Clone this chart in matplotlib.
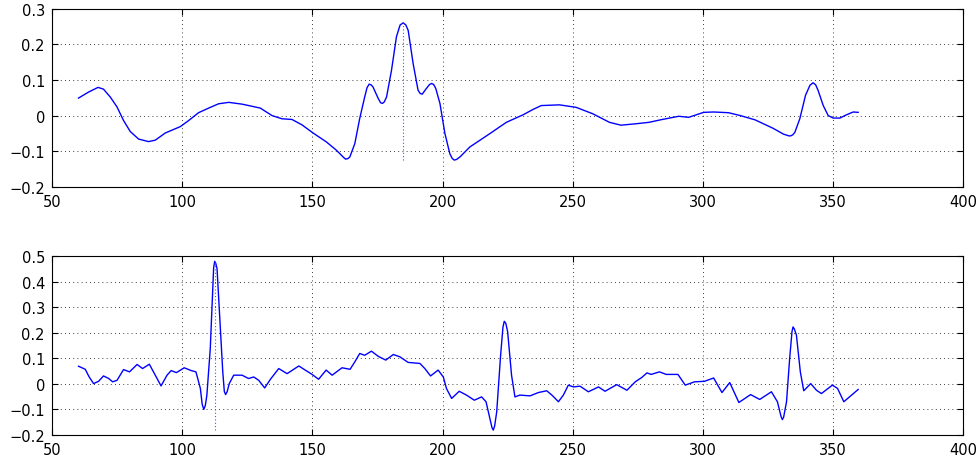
import numpy as np
import matplotlib
matplotlib.use("Agg")
from matplotlib import pyplot as plt

#------DATA-----
# upper trace (sample index, amplitude)
x_top = [60.2, 64.1, 67.7, 69.8, 72.4, 75.0, 77.5, 80.1, 83.3, 87.1, 89.7, 93.5,
         99.3, 102.5, 106.3, 110.2, 114.0, 117.9, 123.0, 130.0, 134.5, 138.3,
         142.2, 146.0, 150.3, 155.4, 159.2, 161.8, 162.7, 163.6, 164.4, 166.3, 168.2, 170.1,
         171.0, 171.8, 172.6, 173.3, 175.3, 176.2, 176.9, 177.6, 178.5, 180.4, 182.3, 183.7, 184.9,
         185.9, 186.8, 188.7, 190.6, 191.4, 192.2, 193.8, 195.0, 195.8, 196.6, 197.4, 199.0,
         200.9, 202.8, 203.7, 204.5, 205.4, 206.7,
         210.5, 214.4, 218.1, 224.5, 230.9, 234.7, 237.9, 244.9, 251.3, 257.7,
         264.1, 268.5, 274.3, 279.3, 283.7, 290.7, 294.5, 300.3, 304.1, 309.8,
         314.3, 320.0, 327.0, 330.9, 333.0, 333.7, 334.5, 335.3, 337.2, 339.4, 341.1, 342.3,
         343.3, 344.2, 346.2, 348.1, 350.0, 352.6, 355.1, 357.7, 359.6]
y_top = [0.049, 0.066, 0.079, 0.074, 0.052, 0.024, -0.014, -0.045, -0.066, -0.073, -0.069, -0.049,
         -0.031, -0.014, 0.008, 0.021, 0.033, 0.037, 0.032, 0.021, 0.000, -0.009,
         -0.011, -0.026, -0.049, -0.074, -0.097, -0.116, -0.122, -0.121, -0.116, -0.079, -0.008, 0.052,
         0.078, 0.088, 0.086, 0.080, 0.048, 0.036, 0.034, 0.038, 0.052, 0.127, 0.221, 0.254, 0.260,
         0.254, 0.239, 0.146, 0.071, 0.062, 0.060, 0.076, 0.087, 0.090, 0.087, 0.076, 0.034,
         -0.050, -0.107, -0.120, -0.125, -0.123, -0.116,
         -0.088, -0.069, -0.051, -0.019, 0.002, 0.017, 0.028, 0.030, 0.023, 0.005,
         -0.019, -0.027, -0.023, -0.019, -0.012, -0.002, -0.005, 0.009, 0.010, 0.008,
         0.000, -0.012, -0.036, -0.052, -0.057, -0.057, -0.054, -0.047, -0.009, 0.057, 0.085, 0.092,
         0.086, 0.071, 0.028, 0.000, -0.007, -0.007, 0.002, 0.010, 0.009]

# lower trace
x_bot = [60.2, 62.8, 64.3, 66.0, 67.9, 69.8, 71.8, 73.3, 75.0, 77.5, 79.8, 82.7,
         84.8, 87.4, 89.7, 91.9, 94.2, 95.8, 97.8, 100.8, 103.5, 105.3, 107.0,
         107.7, 108.3, 108.9, 109.5, 110.8, 111.7, 112.1, 112.5, 112.9, 113.4, 114.4, 115.6,
         116.2, 116.7, 117.3, 118.1,
         119.8, 123.0, 125.5, 127.5, 129.4, 131.7, 133.9, 137.1, 140.3, 144.8,
         147.3, 149.9, 152.4, 155.3, 157.6, 161.4, 164.5, 166.3, 168.2, 170.1,
         172.7, 175.3, 178.2, 181.1, 183.6, 186.8, 191.3, 193.2, 195.4, 198.3,
         200.3, 201.5, 203.5, 206.4, 209.2, 212.2, 215.0, 216.7, 218.2, 219.0, 219.5,
         220.0, 220.8, 222.3, 223.2, 223.7, 224.3, 225.0, 226.5, 227.8, 229.7, 233.6, 236.8, 240.0,
         242.0, 244.5, 246.4, 248.3, 250.3, 252.8, 256.0, 259.9, 262.4, 266.9,
         270.8, 274.0, 276.5, 278.5, 280.1, 283.3, 285.9, 290.4, 293.2, 296.8,
         300.6, 304.1, 307.3, 310.3, 313.8, 318.3, 321.8, 326.3, 328.6, 330.0, 330.5,
         331.0, 332.1, 333.3, 334.2, 334.6, 335.1, 335.9, 337.4, 338.7, 341.4, 343.6, 345.5, 349.7,
         351.7, 354.1, 357.1, 359.6]
y_bot = [0.069, 0.057, 0.027, 0.001, 0.010, 0.031, 0.021, 0.008, 0.014, 0.056, 0.047, 0.076,
         0.060, 0.077, 0.034, -0.008, 0.034, 0.052, 0.044, 0.063, 0.052, 0.047, -0.018,
         -0.080, -0.100, -0.085, -0.044, 0.138, 0.360, 0.455, 0.480, 0.472, 0.452, 0.269, 0.047,
         -0.030, -0.042, -0.030, 0.001,
         0.034, 0.034, 0.021, 0.027, 0.014, -0.016, 0.018, 0.060, 0.040, 0.070,
         0.054, 0.037, 0.018, 0.054, 0.034, 0.063, 0.057, 0.086, 0.119, 0.112,
         0.128, 0.108, 0.093, 0.115, 0.106, 0.084, 0.080, 0.060, 0.031, 0.054,
         0.027, -0.018, -0.057, -0.029, -0.044, -0.064, -0.051, -0.070, -0.136, -0.172, -0.181,
         -0.165, -0.110, 0.112, 0.222, 0.245, 0.237, 0.204, 0.034, -0.051, -0.044, -0.047, -0.034, -0.027,
         -0.044, -0.070, -0.044, -0.005, -0.012, -0.009, -0.031, -0.012, -0.029, -0.003,
         -0.025, 0.008, 0.025, 0.043, 0.037, 0.047, 0.037, 0.037, -0.005, 0.008,
         0.010, 0.023, -0.034, 0.005, -0.073, -0.042, -0.061, -0.031, -0.070, -0.128, -0.140,
         -0.130, -0.070, 0.099, 0.205, 0.223, 0.215, 0.191, 0.047, -0.027, 0.001, -0.025, -0.038, -0.005,
         -0.018, -0.070, -0.044, -0.022]

x_ticks = [50, 100, 150, 200, 250, 300, 350, 400]
y_ticks_top = [-0.2, -0.1, 0, 0.1, 0.2, 0.3]
y_ticks_bot = [-0.2, -0.1, 0, 0.1, 0.2, 0.3, 0.4, 0.5]


def tick_text(v):
    return "0" if v == 0 else ("%g" % v).replace("-", "\u2212")


plt.rcParams['font.family'] = ['DejaVu Sans']
plt.rcParams['font.size'] = 10.5

fig = plt.figure(figsize=(9.8, 4.56), dpi=100)
ax1 = fig.add_axes([0.053, 0.588, 0.930, 0.391])
ax2 = fig.add_axes([0.053, 0.044, 0.930, 0.392])

for ax, xs, ys, yt in [(ax1, x_top, y_top, y_ticks_top), (ax2, x_bot, y_bot, y_ticks_bot)]:
    xs = np.array(xs)
    ys = np.array(ys)
    ax.plot(xs, ys, color='#0000ff', lw=1.0, solid_joinstyle='round')
    # dotted marker at the peak, spanning the full range of the trace
    k = np.argmax(ys)
    ax.vlines(xs[k], ys.min(), ys.max(), colors='#4d4dff', linestyles=(0, (1, 2)), lw=0.8)

    ax.set_xlim(50, 400)
    ax.set_ylim(yt[0], yt[-1])
    ax.set_xticks(x_ticks)
    ax.set_xticklabels([str(t) for t in x_ticks])
    ax.set_yticks(yt)
    ax.set_yticklabels([tick_text(t) for t in yt])
    ax.grid(True, color='black', linestyle=(0, (1, 4)), lw=0.6)
    ax.tick_params(direction='in', top=True, right=True, length=4, width=0.8, pad=5)
    for s in ax.spines.values():
        s.set_linewidth(0.8)

fig.savefig('out.png', dpi=100)
